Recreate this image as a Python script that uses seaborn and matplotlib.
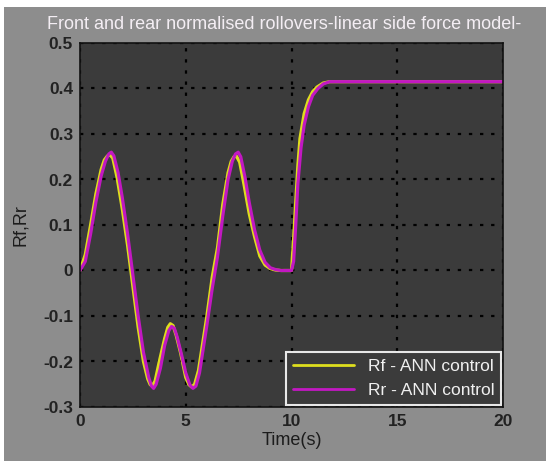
import numpy as np
import pandas as pd
import matplotlib
matplotlib.use("Agg")
import matplotlib.pyplot as plt
from matplotlib.patches import Rectangle
import seaborn as sns

# ---- data ----
t_rf = [0, 0.25, 0.5, 0.75, 1.0, 1.15, 1.3, 1.42, 1.55, 1.75, 2.0, 2.25, 2.5, 2.75,
        3.0, 3.2, 3.32, 3.42, 3.55, 3.75, 4.0, 4.15, 4.27, 4.4, 4.55, 4.75, 5.0,
        5.15, 5.28, 5.42, 5.6, 5.8, 6.0, 6.25, 6.5, 6.75, 7.0, 7.15, 7.28, 7.4,
        7.55, 7.75, 8.0, 8.25, 8.5, 8.75, 9.0, 9.25, 9.5, 9.75, 10.0,
        10.1, 10.2, 10.3, 10.4, 10.6, 10.8, 11.0, 11.2, 11.5, 11.8, 15.0, 20.0]
rf = [0.0, 0.035, 0.10, 0.168, 0.222, 0.243, 0.252, 0.254, 0.247, 0.205, 0.135,
      0.055, -0.035, -0.125, -0.20, -0.238, -0.251, -0.253, -0.243, -0.20, -0.15,
      -0.125, -0.117, -0.121, -0.143, -0.18, -0.235, -0.251, -0.256, -0.25, -0.22,
      -0.16, -0.10, -0.015, 0.05, 0.145, 0.215, 0.24, 0.25, 0.251, 0.238, 0.19,
      0.125, 0.075, 0.032, 0.012, 0.004, 0.001, 0.0, 0.0, 0.0,
      0.07, 0.15, 0.23, 0.29, 0.345, 0.375, 0.393, 0.403, 0.412, 0.415, 0.415, 0.415]

t_rr = [0, 0.25, 0.5, 0.75, 1.0, 1.2, 1.36, 1.48, 1.6, 1.8, 2.0, 2.25, 2.5, 2.75,
        3.0, 3.25, 3.38, 3.48, 3.6, 3.8, 4.0, 4.2, 4.33, 4.46, 4.6, 4.8, 5.0,
        5.2, 5.34, 5.48, 5.65, 5.85, 6.0, 6.25, 6.5, 6.75, 7.0, 7.2, 7.35, 7.48,
        7.6, 7.8, 8.0, 8.25, 8.5, 8.75, 9.0, 9.25, 9.5, 9.75, 10.0,
        10.1, 10.2, 10.3, 10.45, 10.6, 10.8, 11.0, 11.25, 11.5, 11.8, 15.0, 20.0]
rr = [0.0, 0.02, 0.08, 0.15, 0.208, 0.24, 0.256, 0.26, 0.252, 0.215, 0.16, 0.08,
      -0.01, -0.10, -0.18, -0.235, -0.254, -0.259, -0.25, -0.215, -0.165, -0.132,
      -0.123, -0.127, -0.147, -0.185, -0.225, -0.252, -0.259, -0.254, -0.225,
      -0.165, -0.12, -0.04, 0.03, 0.12, 0.20, 0.24, 0.256, 0.26, 0.25, 0.205,
      0.15, 0.09, 0.045, 0.018, 0.006, 0.002, 0.0, 0.0, 0.0,
      0.02, 0.10, 0.19, 0.27, 0.32, 0.36, 0.385, 0.40, 0.41, 0.415, 0.415, 0.415]

labels = ["Rf - ANN control", "Rr - ANN control"]
x_ticks = [0, 5, 10, 15, 20]
y_ticks = [-0.3, -0.2, -0.1, 0, 0.1, 0.2, 0.3, 0.4, 0.5]
y_tick_labels = ["-0.3", "-0.2", "-0.1", "0", "0.1", "0.2", "0.3", "0.4", "0.5"]
title = "Front and rear normalised rollovers-linear side force model-"

df = pd.concat([
    pd.DataFrame({"t": t_rf, "v": rf, "series": labels[0]}),
    pd.DataFrame({"t": t_rr, "v": rr, "series": labels[1]}),
], ignore_index=True)

sns.set_theme(style="white")
plt.rcParams["font.family"] = ["Liberation Sans", "DejaVu Sans"]

W, H = 546, 461
fig = plt.figure(figsize=(W / 100, H / 100), dpi=100, facecolor="white")
fig.patches.append(Rectangle((4 / W, 0), 1 - 4 / W, 1 - 7 / H, transform=fig.transFigure,
                             facecolor="#8d8d8d", edgecolor="none", zorder=-10))
ax = fig.add_axes([80 / W, 1 - 407 / H, (503 - 80) / W, (407 - 43) / H])
ax.set_facecolor("#3b3b3b")

palette = {labels[0]: "#dede1e", labels[1]: "#c218c2"}
sns.lineplot(data=df, x="t", y="v", hue="series", palette=palette, sort=False,
             estimator=None, linewidth=2.3, ax=ax)

ax.set_xlim(0, 20)
ax.set_ylim(-0.3, 0.5)
ax.set_xticks(x_ticks)
ax.set_xticklabels([str(v) for v in x_ticks], fontweight="bold")
ax.set_yticks(y_ticks)
ax.set_yticklabels(y_tick_labels, fontweight="bold")
ax.tick_params(axis="both", length=0, labelsize=12.5, labelcolor="#222222", pad=5)
ax.grid(True, color="black", linestyle=(0, (1.5, 3.5)), linewidth=1.6)
for s in ax.spines.values():
    s.set_color("#111111")
    s.set_linewidth(1.2)

ax.set_xlabel("Time(s)", fontsize=13, color="#1c1c1c", labelpad=2)
ax.set_ylabel("Rf,Rr", fontsize=13, color="#1c1c1c", labelpad=10)
ttl = ax.set_title(title, fontsize=13, color="#f4eef4", pad=10)
ttl.set_x(0.482)

leg = ax.legend(loc="lower right", borderaxespad=0.1, fontsize=12.5, frameon=True,
                fancybox=False, handlelength=3.5, labelcolor="#f0f0f0")
for ln in leg.get_lines():
    ln.set_linewidth(2.0)
leg.get_frame().set_facecolor("#3b3b3b")
leg.get_frame().set_edgecolor("#e8e8e8")
leg.get_frame().set_linewidth(1.5)
leg.get_frame().set_alpha(1)

fig.savefig("out.png", dpi=100, facecolor=fig.get_facecolor())
